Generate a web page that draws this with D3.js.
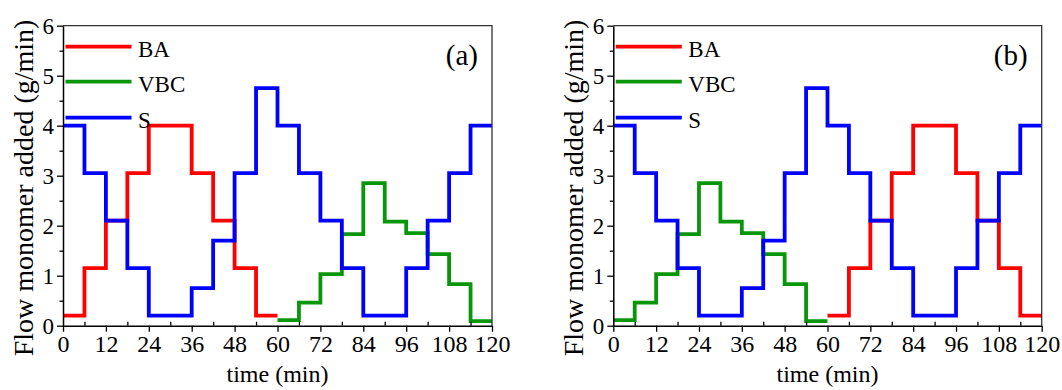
<!DOCTYPE html>
<meta charset="utf-8">

<!-- Load d3.js -->
<script src="https://d3js.org/d3.v7.min.js"></script>

<style>
  body { margin: 0; background: #fff; }
  svg text { font-family: "Liberation Serif", "Times New Roman", serif; fill: #000; }
</style>

<!-- Create a div where the graph will take place -->
<div id="my_dataviz"></div>

<script>

  // time grid (min), one feed step every 6 min
  var timeSteps = [0, 6, 12, 18, 24, 30, 36, 42, 48, 54, 60, 66, 72, 78, 84, 90, 96, 102, 108, 114, 120];
  var xTicks = [0, 12, 24, 36, 48, 60, 72, 84, 96, 108, 120];
  var xMinorTicks = [6, 18, 30, 42, 54, 66, 78, 90, 102, 114];
  var yTicks = [0, 1, 2, 3, 4, 5, 6];
  var yMinorTicks = [0.5, 1.5, 2.5, 3.5, 4.5, 5.5];

  // flow rates (g/min) read per 6 min step
  var baA  = [0.2, 1.15, 2.1, 3.05, 4.0, 4.0, 3.05, 2.1, 1.15, 0.2];           // 0-60 min
  var vbcA = [0.11, 0.46, 1.03, 1.83, 2.85, 2.08, 1.85, 1.43, 0.83, 0.09];    // 60-120 min
  var sA   = [4.0, 3.05, 2.1, 1.15, 0.2, 0.2, 0.75, 1.7, 3.05, 4.75,
              4.0, 3.05, 2.1, 1.15, 0.2, 0.2, 1.15, 2.1, 3.05, 4.0];          // 0-120 min

  var baB  = [0.2, 1.15, 2.1, 3.05, 4.0, 4.0, 3.05, 2.1, 1.15, 0.2];           // 60-120 min
  var vbcB = [0.11, 0.46, 1.03, 1.83, 2.85, 2.08, 1.85, 1.43, 0.83, 0.09];    // 0-60 min
  var sB   = [4.0, 3.05, 2.1, 1.15, 0.2, 0.2, 0.75, 1.7, 3.05, 4.75,
              4.0, 3.05, 2.1, 1.15, 0.2, 0.2, 1.15, 2.1, 3.05, 4.0];          // 0-120 min

  var names = ["BA", "VBC", "S"];
  var colors = ["#ff0000", "#0a960a", "#0000ff"];

  var panels = [
    {label: "(a)", left: 63, right: 492, series: [{v: baA, start: 0}, {v: vbcA, start: 10}, {v: sA, start: 0}]},
    {label: "(b)", left: 613.3, right: 1041.7, series: [{v: baB, start: 10}, {v: vbcB, start: 0}, {v: sB, start: 0}]}
  ];

  var plotTop = 25.7, plotBottom = 325.7;

  var svg = d3.select("#my_dataviz")
    .append("svg")
      .attr("width", 1062)
      .attr("height", 390);

  panels.forEach(function(p) {

    var x = d3.scaleLinear().domain([0, 120]).range([p.left, p.right]);
    var y = d3.scaleLinear().domain([0, 6]).range([plotBottom, plotTop]);

    var g = svg.append("g");

    // step lines
    var line = d3.line()
      .x(function(d) { return x(d[0]); })
      .y(function(d) { return y(d[1]); })
      .curve(d3.curveStepAfter);

    p.series.forEach(function(s, i) {
      var pts = s.v.map(function(v, j) { return [timeSteps[s.start + j], v]; });
      pts.push([timeSteps[s.start + s.v.length], s.v[s.v.length - 1]]);
      g.append("path")
        .datum(pts)
        .attr("d", line)
        .attr("fill", "none")
        .attr("stroke", colors[i])
        .attr("stroke-width", 3.8)
        .attr("stroke-linejoin", "miter");
    });

    // frame (top + right)
    g.append("path")
      .attr("d", "M" + p.left + "," + plotTop + "H" + p.right + "V" + plotBottom)
      .attr("fill", "none")
      .attr("stroke", "#333")
      .attr("stroke-width", 1.3);

    // x axis
    var xAxis = g.append("g")
      .attr("transform", "translate(0," + plotBottom + ")")
      .call(d3.axisBottom(x).tickValues(xTicks).tickSize(6).tickPadding(2).tickSizeOuter(0));
    g.append("g")
      .attr("transform", "translate(0," + plotBottom + ")")
      .call(d3.axisBottom(x).tickValues(xMinorTicks).tickSize(-4).tickFormat("").tickSizeOuter(0))
      .select(".domain").remove();

    // y axis
    var yAxis = g.append("g")
      .attr("transform", "translate(" + p.left + ",0)")
      .call(d3.axisLeft(y).tickValues(yTicks).tickFormat(d3.format("d")).tickSize(6).tickPadding(3).tickSizeOuter(0));
    g.append("g")
      .attr("transform", "translate(" + p.left + ",0)")
      .call(d3.axisLeft(y).tickValues(yMinorTicks).tickSize(3.5).tickFormat("").tickSizeOuter(0))
      .select(".domain").remove();

    g.selectAll(".domain").attr("stroke", "#000").attr("stroke-width", 1.5);
    g.selectAll(".tick line").attr("stroke", "#000").attr("stroke-width", 1.3);
    xAxis.selectAll("text").style("font-size", "24px").attr("dy", "0.78em");
    yAxis.selectAll("text").style("font-size", "23px");

    // axis titles
    g.append("text")
      .attr("x", (p.left + p.right) / 2)
      .attr("y", 382)
      .attr("text-anchor", "middle")
      .style("font-size", "24px")
      .text("time (min)");

    g.append("text")
      .attr("transform", "translate(" + (p.left - 30) + ",188) rotate(-90)")
      .attr("text-anchor", "middle")
      .style("font-size", "28px")
      .text("Flow monomer added (g/min)");

    // panel label
    g.append("text")
      .attr("x", p.right - 14)
      .attr("y", 65)
      .attr("text-anchor", "end")
      .style("font-size", "29px")
      .text(p.label);

    // legend
    var legendY = [46.7, 81.7, 117.7];
    names.forEach(function(n, i) {
      g.append("line")
        .attr("x1", p.left + 2.5).attr("x2", p.left + 68.5)
        .attr("y1", legendY[i]).attr("y2", legendY[i])
        .attr("stroke", colors[i])
        .attr("stroke-width", 3.8);
      g.append("text")
        .attr("x", p.left + 75)
        .attr("y", legendY[i] + 10)
        .style("font-size", "23px")
        .text(n);
    });
  });

</script>
